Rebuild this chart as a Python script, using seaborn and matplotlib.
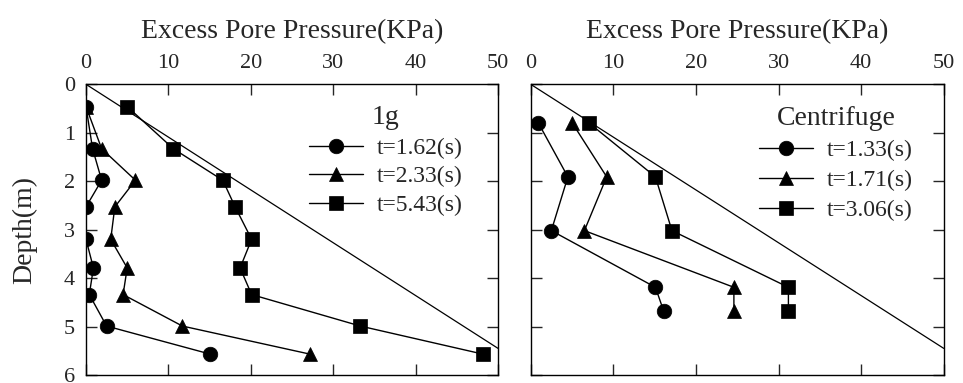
import pandas as pd
import matplotlib
matplotlib.use("Agg")
import matplotlib.pyplot as plt
import seaborn as sns

# 1. Data
# 1g test
g1_labels = ["t=1.62(s)", "t=2.33(s)", "t=5.43(s)"]
g1_depth = [0.46, 1.33, 1.98, 2.53, 3.2, 3.79, 4.34, 4.99, 5.57]
g1_p_162 = [0.0, 0.8, 1.9, 0.0, 0.0, 0.9, 0.4, 2.5, 15.1]
g1_p_233 = [0.0, 1.9, 6.0, 3.5, 3.0, 5.0, 4.5, 11.7, 27.2]
g1_p_543 = [5.0, 10.6, 16.6, 18.1, 20.1, 18.7, 20.1, 33.3, 48.2]

# centrifuge test
cf_labels = ["t=1.33(s)", "t=1.71(s)", "t=3.06(s)"]
cf_depth = [0.79, 1.91, 3.02, 4.19, 4.68]
cf_p_133 = [0.9, 4.5, 2.5, 15.1, 16.1]
cf_p_171 = [5.0, 9.2, 6.5, 24.6, 24.6]
cf_p_306 = [7.0, 15.1, 17.1, 31.2, 31.2]

# reference line (total/effective stress)
ref_p = [0, 50]
ref_depth = [0, 5.45]


def long_form(depth, series, labels):
    frames = []
    for vals, lab in zip(series, labels):
        frames.append(pd.DataFrame({"Pressure": vals, "Depth": depth, "Series": lab}))
    return pd.concat(frames, ignore_index=True)


df_g1 = long_form(g1_depth, [g1_p_162, g1_p_233, g1_p_543], g1_labels)
df_cf = long_form(cf_depth, [cf_p_133, cf_p_171, cf_p_306], cf_labels)

# 2. Style
sns.set_style("ticks")
plt.rcParams["font.family"] = ["Liberation Serif", "DejaVu Serif"]

fig, axes = plt.subplots(1, 2, figsize=(9.63, 3.83), dpi=100)
axes[0].set_position([86 / 963, 1 - 375 / 383, 412 / 963, 290.7 / 383])
axes[1].set_position([530.7 / 963, 1 - 375 / 383, 413 / 963, 290.7 / 383])

marker_map = ["o", "^", "s"]

# axes, data, labels, legend title, legend anchor, row spacing
panels = [
    (axes[0], df_g1, g1_labels, "1g", (0.915, 0.928), 0.3),
    (axes[1], df_cf, cf_labels, "Centrifuge", (0.926, 0.927), 0.37),
]

for ax, df, labels, title, anchor, spacing in panels:
    ax.plot(ref_p, ref_depth, color="black", lw=0.9)
    sns.lineplot(
        data=df,
        x="Pressure",
        y="Depth",
        hue="Series",
        style="Series",
        hue_order=labels,
        style_order=labels,
        palette=["black"] * 3,
        markers=dict(zip(labels, marker_map)),
        dashes=False,
        sort=False,
        estimator=None,
        ax=ax,
        lw=1.0,
        markersize=10.5,
        markeredgecolor="black",
        markeredgewidth=0.5,
        legend="full",
    )
    ax.set_xlim(0, 50)
    ax.set_ylim(6, 0)
    ax.set_xticks([0, 10, 20, 30, 40, 50])
    ax.set_yticks([0, 1, 2, 3, 4, 5, 6])
    ax.xaxis.tick_top()
    ax.tick_params(axis="both", direction="in", length=8, width=1.0,
                   top=True, bottom=True, left=True, right=True,
                   labeltop=True, labelbottom=False, labelsize=16, pad=8)
    ax.set_xlabel("Excess Pore Pressure(KPa)", fontsize=20)
    ax.xaxis.set_label_position("top")
    ax.xaxis.set_label_coords(0.5, 1.16)
    for side in ax.spines.values():
        side.set_linewidth(1.0)
        side.set_color("black")
    sns.move_legend(
        ax, "upper right", bbox_to_anchor=anchor, title=title,
        frameon=False, fontsize=17, title_fontsize=20, borderpad=0,
        borderaxespad=0, handlelength=2.3, handletextpad=0.6,
        labelspacing=spacing,
    )

axes[0].set_ylabel("Depth(m)", fontsize=20)
axes[0].yaxis.set_label_coords(-0.119, 0.5)
axes[1].set_ylabel("")
axes[1].tick_params(labelleft=False)

plt.savefig("out.png", dpi=100)
